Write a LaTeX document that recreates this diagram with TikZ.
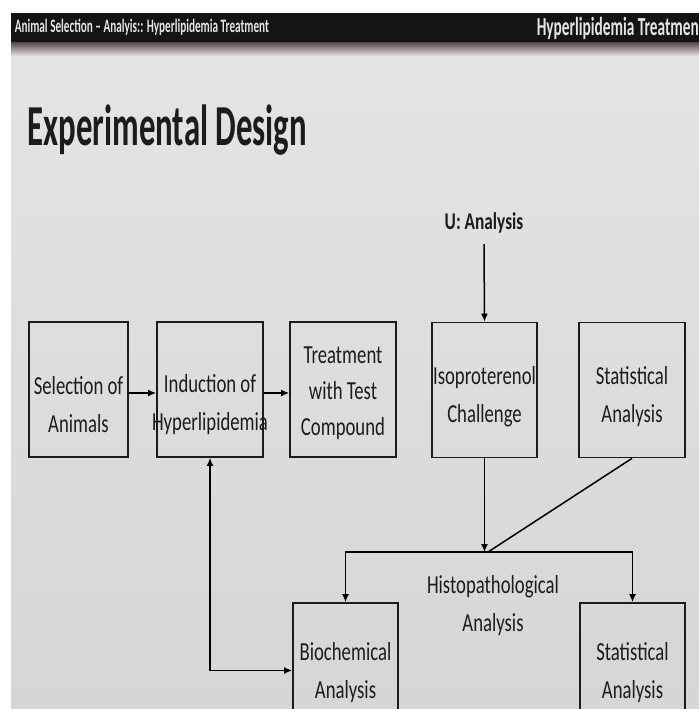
\documentclass[tikz,border=0pt]{standalone}
\usepackage{fontspec}
\setmainfont[FakeStretch=0.72]{Carlito}
\newfontfamily\titlefont[FakeStretch=0.565]{Carlito}
\newfontfamily\headfont[FakeStretch=0.59]{Carlito}
\usetikzlibrary{arrows.meta}
\definecolor{bgtop}{RGB}{228,228,228}
\definecolor{bgbot}{RGB}{214,214,214}
\definecolor{barred}{RGB}{70,45,45}
\definecolor{ink}{RGB}{28,28,28}

\begin{document}
\begin{tikzpicture}[x=1pt,y=-1pt,>={Latex[length=8pt,width=7pt]},line width=1.5pt]
	\tikzstyle{block}=[draw=ink,line width=1.7pt,minimum width=106pt,minimum height=135pt,inner sep=0pt]
	\tikzstyle{txt}=[text=ink,align=center,inner sep=0pt,font=\fontsize{26}{38}\selectfont]
	\tikzstyle{headtxt}=[anchor=west,text=gray!20,inner sep=0pt,font=\headfont\bfseries\fontsize{19}{19}\selectfont]

	\useasboundingbox (0,0) rectangle (699,709);
	\clip (0,0) rectangle (699,709);
	\fill[white] (0,0) rectangle (699,709);
	\shade[top color=bgtop,bottom color=bgbot] (11,45) rectangle (699,709);
	\shade[top color=barred,bottom color=bgtop] (11,40) rectangle (699,56);
	\fill[black!92] (11,13) rectangle (699,42);

	% header and title
	\node[headtxt] (head) at (14,27) {Animal Selection – Analyis:: Hyperlipidemia Treatment};
	\node[headtxt,font=\headfont\bfseries\fontsize{26}{26}\selectfont] (headr) at (536,28) {Hyperlipidemia Treatmen};
	\node[anchor=base west,text=ink,inner sep=0pt,font=\titlefont\bfseries\fontsize{58}{58}\selectfont] (title) at (27,145) {Experimental Design};

	% top row
	\node[block,minimum width=99pt] (sel) at (78.5,389.5) {};
	\node[block] (ind) at (210,389.5) {};
	\node[block] (trt) at (343,389.5) {};
	\node[block,minimum width=105pt] (iso) at (484.5,390) {};
	\node[block] (stat1) at (632,390) {};

	\node[txt] (selt) at ([yshift=-15pt]sel.center) {Selection of\\Animals};
	\node[txt] (indt) at ([yshift=-15pt]ind.center) {Induction of\\Hyperlipidemia};
	\node[txt,font=\fontsize{26}{36}\selectfont] (trtt) at ([yshift=-4pt]trt.center) {Treatment\\with Test\\Compound};
	\node[txt] (isot) at ([yshift=-7pt]iso.center) {Isoproterenol\\Challenge};
	\node[txt] (stat1t) at ([yshift=-7pt]stat1.center) {Statistical\\Analysis};

	\node[txt,font=\bfseries\fontsize{24}{24}\selectfont] (ua) at (484,223) {U: Analysis};

	% bottom row
	\node[block,minimum width=105pt] (bio) at (345.5,670.5) {};
	\node[block,minimum width=105pt] (stat2) at (632.5,670.5) {};
	\node[txt] (biot) at ([yshift=-2pt]bio.center) {Biochemical\\Analysis};
	\node[txt] (stat2t) at ([yshift=-2pt]stat2.center) {Statistical\\Analysis};
	\node[txt] (histo) at (493,606) {Histopathological\\Analysis};

	\coordinate (j) at (488,552);

	\draw[->] ([yshift=-3.5pt]sel.east) -- ([yshift=-3.5pt]ind.west);
	\draw[->] ([yshift=-3.5pt]ind.east) -- ([yshift=-3.5pt]trt.west);
	\draw[->] (ua.south) ++(0,10) -- (iso.north);
	\draw[->] (iso.south) -- (iso.south |- j);
	\draw (stat1.south) -- (j);
	\draw[->] (j) -| (bio.north);
	\draw[->] (j) -| (stat2.north);
	\draw[<->] (ind.south) |- (bio.west);
\end{tikzpicture}
\end{document}
